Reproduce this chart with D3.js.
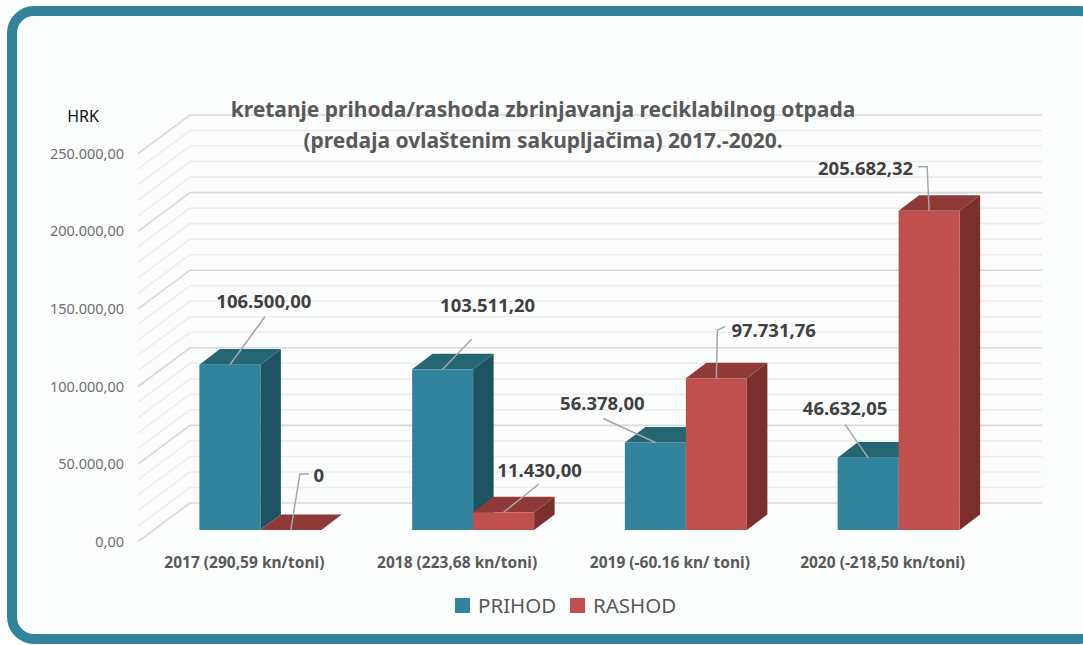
<!DOCTYPE html>
<html>
<head>
<meta charset="utf-8">
<script src="https://cdn.jsdelivr.net/npm/d3@7"></script>
<style>
  html, body { margin: 0; padding: 0; background: #fff; overflow: hidden; }
  svg { display: block; font-family: "Noto Sans", sans-serif; }
  .minor { stroke: #eeeeee; stroke-width: 1.6; fill: none; }
  .major { stroke: #d9d9d9; stroke-width: 1.6; fill: none; }
  .leader { stroke: #a6a6a6; stroke-width: 1.5; fill: none; }
  .data-label { font-size: 18.5px; font-weight: 700; fill: #404040; }
</style>
</head>
<body>
<svg width="1083" height="645"></svg>
<script>
const categories = ['2017 (290,59 kn/toni)', '2018 (223,68 kn/toni)', '2019 (-60.16 kn/ toni)', '2020 (-218,50 kn/toni)'];
const seriesNames = ['PRIHOD', 'RASHOD'];
const prihod = [106500.00, 103511.20, 56378.00, 46632.05];
const rashod = [0, 11430.00, 97731.76, 205682.32];
const labelPrihod = ['106.500,00', '103.511,20', '56.378,00', '46.632,05'];
const labelRashod = ['0', '11.430,00', '97.731,76', '205.682,32'];
const yTicks = [0, 50000, 100000, 150000, 200000, 250000];
const titleLines = [
  'kretanje prihoda/rashoda zbrinjavanja reciklabilnog otpada',
  '(predaja ovlaštenim sakupljačima) 2017.-2020.'
];

// leader line bends + label spot, relative to the top centre of each bar
const calloutsPrihod = [
  { bends: [[35, -48]], text: [34, -63], anchor: 'middle' },
  { bends: [[29, -30]], text: [45, -64], anchor: 'middle' },
  { bends: [[-52, -24]], text: [-53, -39], anchor: 'middle' },
  { bends: [[-23, -33]], text: [-23, -49], anchor: 'middle' }
];
const calloutsRashod = [
  { bends: [[9, -56], [18, -56]], text: [28, -54], anchor: 'middle' },
  { bends: [[35, -28]], text: [36, -42], anchor: 'middle' },
  { bends: [[1, -48], [9, -52]], text: [15, -48], anchor: 'start' },
  { bends: [[-2, -44], [-11, -44]], text: [-16, -42], anchor: 'end' }
];

const colors = {
  PRIHOD: { front: '#31849b', top: '#256675', side: '#1f5361' },
  RASHOD: { front: '#c0504d', top: '#8f3a37', side: '#7a2f2d' }
};

const svg = d3.select('svg');
const plot = { left: 154, right: 1005, base: 530, top: 142 };
const barDepth = { x: 20.5, y: -15.6 };
const wallFront = { x: -16, y: 11.7 };   // front edge of the floor
const wallBack = { x: 36, y: -27 };      // back wall
const wallRight = 1042;

const xScale = d3.scaleBand()
  .domain(categories)
  .range([plot.left, plot.right])
  .paddingInner(0.4265)
  .paddingOuter(0.21325);

const xSeries = d3.scaleBand()
  .domain(seriesNames)
  .range([0, xScale.bandwidth()]);

const yScale = d3.scaleLinear()
  .domain([0, 250000])
  .range([plot.base, plot.top]);

const hrFormat = d3.formatLocale({ decimal: ',', thousands: '.', grouping: [3], currency: ['', ''] }).format(',.2f');

// card behind the chart
svg.append('rect')
  .attr('x', 12).attr('y', 11)
  .attr('width', 1090).attr('height', 628)
  .attr('rx', 22).attr('ry', 22)
  .attr('fill', '#fcfdfd')
  .attr('stroke', '#31849b')
  .attr('stroke-width', 10);

const renderGrid = () => {
  const grid = svg.append('g').attr('class', 'grid');
  const left = plot.left + wallFront.x;
  const back = plot.left + wallBack.x;
  const lines = d3.range(0, 250001, 10000);
  grid.selectAll('path')
    .data(lines.filter(d => d % 50000 !== 0).concat(yTicks))
    .enter()
    .append('path')
      .attr('class', d => d % 50000 === 0 ? 'major' : 'minor')
      .attr('d', d => d3.line()([
        [left, yScale(d) + wallFront.y],
        [back, yScale(d) + wallBack.y],
        [wallRight, yScale(d) + wallBack.y]
      ]));
};

const renderAxes = () => {
  const yAxis = d3.axisLeft(yScale)
    .tickValues(yTicks)
    .tickFormat(hrFormat)
    .tickSize(0)
    .tickPadding(0);
  const yGroup = svg.append('g')
    .attr('transform', `translate(124, ${wallFront.y})`)
    .call(yAxis);
  yGroup.select('path.domain').remove();
  yGroup.selectAll('text')
    .attr('fill', '#6f6f6f')
    .style('font-family', '"Noto Sans", sans-serif')
    .style('font-size', '14.5px');

  const xAxis = d3.axisBottom(xScale).tickSize(0).tickPadding(0);
  const xGroup = svg.append('g')
    .attr('transform', `translate(${wallFront.x}, 557)`)
    .call(xAxis);
  xGroup.select('path.domain').remove();
  xGroup.selectAll('text')
    .attr('fill', '#595959')
    .style('font-family', '"Noto Sans", sans-serif')
    .style('font-size', '15.5px')
    .style('font-weight', 700);
};

const barFaces = (x, w, yTop, yBase) => ({
  top: d3.line()([[x, yTop], [x + barDepth.x, yTop + barDepth.y], [x + w + barDepth.x, yTop + barDepth.y], [x + w, yTop]]) + 'Z',
  side: d3.line()([[x + w, yTop], [x + w + barDepth.x, yTop + barDepth.y], [x + w + barDepth.x, yBase + barDepth.y], [x + w, yBase]]) + 'Z'
});

const renderBars = () => {
  const bars = svg.append('g').attr('class', 'bars');
  categories.forEach((cat, i) => {
    [prihod, rashod].forEach((values, s) => {
      const name = seriesNames[s];
      const x = xScale(cat) + xSeries(name);
      const w = xSeries.bandwidth();
      const yTop = yScale(values[i]);
      const faces = barFaces(x, w, yTop, plot.base);
      bars.append('path').attr('d', faces.side).attr('fill', colors[name].side);
      bars.append('path').attr('d', faces.top).attr('fill', colors[name].top);
      bars.append('rect')
        .attr('x', x).attr('y', yTop)
        .attr('width', w).attr('height', plot.base - yTop)
        .attr('fill', colors[name].front);
    });
  });
};

const renderCallouts = () => {
  const group = svg.append('g').attr('class', 'callouts');
  const draw = (name, values, labels, callouts) => {
    categories.forEach((cat, i) => {
      const cx = xScale(cat) + xSeries(name) + xSeries.bandwidth() / 2;
      const cy = yScale(values[i]);
      const c = callouts[i];
      const pts = [[cx, cy]].concat(c.bends.map(b => [cx + b[0], cy + b[1]]));
      group.append('path').attr('class', 'leader').attr('d', d3.line()(pts));
      group.append('text')
        .attr('class', 'data-label')
        .attr('x', cx + c.text[0])
        .attr('y', cy + c.text[1])
        .attr('dy', '0.35em')
        .attr('text-anchor', c.anchor)
        .text(labels[i]);
    });
  };
  draw('PRIHOD', prihod, labelPrihod, calloutsPrihod);
  draw('RASHOD', rashod, labelRashod, calloutsRashod);
};

const renderTitle = () => {
  svg.append('text')
    .attr('x', 83).attr('y', 116)
    .attr('dy', '0.35em')
    .attr('text-anchor', 'middle')
    .attr('font-size', 16)
    .attr('fill', '#111')
    .text('HRK');

  svg.selectAll('text.title')
    .data(titleLines)
    .enter()
    .append('text')
      .attr('class', 'title')
      .attr('x', 543)
      .attr('y', (d, i) => 110 + i * 31)
      .attr('dy', '0.35em')
      .attr('text-anchor', 'middle')
      .attr('font-size', 21)
      .attr('font-weight', 700)
      .attr('fill', '#595959')
      .text(d => d);
};

const renderLegend = () => {
  const legendX = d3.scaleOrdinal().domain(seriesNames).range([455, 570]);
  const legend = svg.selectAll('g.legend-item')
    .data(seriesNames)
    .enter()
    .append('g')
      .attr('class', 'legend-item')
      .attr('transform', d => `translate(${legendX(d)}, 598)`);
  legend.append('rect')
    .attr('width', 15).attr('height', 15)
    .attr('fill', d => colors[d].front);
  legend.append('text')
    .attr('x', 23).attr('y', 8)
    .attr('dy', '0.35em')
    .attr('font-size', 20.5)
    .attr('fill', '#595959')
    .text(d => d);
};

renderGrid();
renderAxes();
renderBars();
renderCallouts();
renderTitle();
renderLegend();
</script>
</body>
</html>
